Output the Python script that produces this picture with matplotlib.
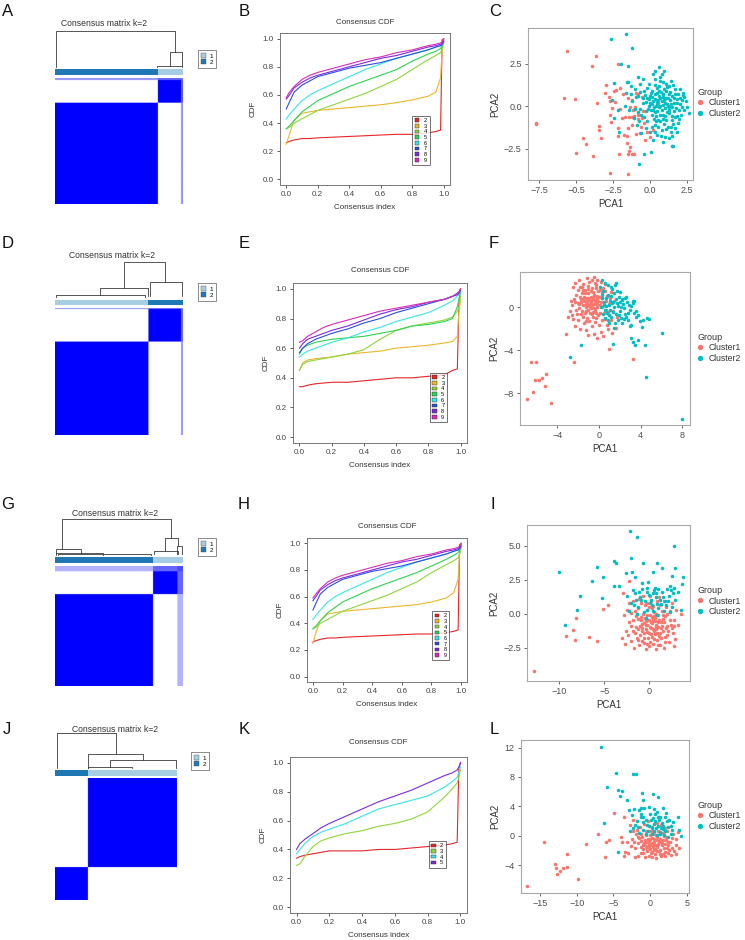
import numpy as np
import matplotlib
matplotlib.use("Agg")
import matplotlib.pyplot as plt
from matplotlib.colors import LinearSegmentedColormap
from matplotlib.patches import Patch
from matplotlib.lines import Line2D

plt.rcParams['font.family'] = ['Liberation Sans', 'DejaVu Sans']

W, H = 745, 940

# ---------------- consensus matrices (group sizes in sample order) ----------------
grp_colors = {'1': '#A6CEE3', '2': '#1F78B4'}

sizes_A = [402, 90, 8]
groups_A = ['2', '1', '1']
cons_A = [[1, 0, 0.42], [0, 1, 0.6], [0.42, 0.6, 0.55]]
dend_A = [(0.01, 0.0, 0.94, 0.42, 1.0), (0.90, 0.04, 0.99, 0.04, 0.42), (0.80, 0.0, 0.99, 0.0, 0.04)]

sizes_D = [365, 127, 8]
groups_D = ['1', '2', '2']
cons_D = [[1, 0, 0.4], [0, 1, 0.55], [0.4, 0.55, 0.5]]
dend_D = [(0.54, 0.25, 0.86, 0.44, 1.0), (0.35, 0.05, 0.73, 0.03, 0.25),
          (0.74, 0.03, 0.99, 0.03, 0.44), (0.01, 0.0, 0.70, 0.0, 0.05)]

sizes_G = [383, 95, 22]
groups_G = ['2', '1', '1']
cons_G = [[1, 0, 0.3], [0, 1, 0.6], [0.3, 0.6, 0.7]]
dend_G = [(0.055, 0.16, 0.91, 0.46, 1.0), (0.01, 0.05, 0.20, 0.05, 0.16),
          (0.86, 0.10, 0.96, 0.24, 0.46), (0.77, 0.02, 0.96, 0.02, 0.10),
          (0.95, 0.02, 0.99, 0.02, 0.24), (0.01, 0.0, 0.375, 0.0, 0.05),
          (0.02, 0.0, 0.75, 0.0, 0.02)]

sizes_J = [135, 365]
groups_J = ['2', '1']
cons_J = [[1, 0], [0, 1]]
dend_J = [(0.016, 0.0, 0.50, 0.39, 1.0), (0.27, 0.0, 0.72, 0.22, 0.39),
          (0.45, 0.02, 0.99, 0.0, 0.22), (0.27, 0.0, 0.63, 0.0, 0.03)]

# ---------------- consensus CDF curves ----------------
cdf_x = [0.0, 0.02, 0.05, 0.1, 0.15, 0.2, 0.3, 0.4, 0.5, 0.6, 0.7, 0.8, 0.9, 0.95, 0.98, 0.99, 1.0]
k_colors = {2: '#E8262A', 3: '#E9B72D', 4: '#8FD63B', 5: '#2ED452', 6: '#38E6E6',
            7: '#2A4FE0', 8: '#7A2BE0', 9: '#DA2BB8'}
k_colors_K = {2: '#E8262A', 3: '#8FD63B', 4: '#38E6E6', 5: '#7A2BE0'}

cdf_B = {
    2: [0.26, 0.27, 0.28, 0.29, 0.29, 0.295, 0.30, 0.305, 0.31, 0.315, 0.32, 0.32, 0.33, 0.34, 0.35, 0.99, 1.0],
    3: [0.25, 0.32, 0.42, 0.47, 0.48, 0.49, 0.50, 0.51, 0.52, 0.53, 0.545, 0.565, 0.59, 0.62, 0.72, 0.92, 1.0],
    4: [0.36, 0.37, 0.40, 0.43, 0.46, 0.49, 0.53, 0.57, 0.61, 0.66, 0.71, 0.78, 0.85, 0.88, 0.90, 0.93, 0.97],
    5: [0.36, 0.38, 0.42, 0.48, 0.52, 0.56, 0.61, 0.66, 0.70, 0.74, 0.78, 0.84, 0.89, 0.91, 0.93, 0.95, 0.97],
    6: [0.43, 0.46, 0.50, 0.56, 0.60, 0.63, 0.68, 0.73, 0.78, 0.82, 0.86, 0.89, 0.92, 0.94, 0.95, 0.96, 0.98],
    7: [0.50, 0.55, 0.62, 0.67, 0.70, 0.73, 0.76, 0.79, 0.81, 0.83, 0.86, 0.89, 0.92, 0.94, 0.95, 0.96, 0.98],
    8: [0.57, 0.60, 0.65, 0.69, 0.72, 0.74, 0.77, 0.80, 0.83, 0.86, 0.88, 0.91, 0.94, 0.95, 0.96, 0.97, 0.99],
    9: [0.58, 0.62, 0.66, 0.71, 0.74, 0.76, 0.79, 0.82, 0.85, 0.87, 0.90, 0.92, 0.95, 0.96, 0.97, 0.98, 1.0],
}
cdf_E = {
    2: [0.34, 0.34, 0.35, 0.36, 0.365, 0.37, 0.37, 0.38, 0.39, 0.40, 0.40, 0.41, 0.42, 0.45, 0.46, 0.92, 1.0],
    3: [0.45, 0.50, 0.52, 0.53, 0.535, 0.54, 0.56, 0.57, 0.58, 0.60, 0.61, 0.62, 0.635, 0.645, 0.68, 0.85, 0.92],
    4: [0.45, 0.49, 0.51, 0.52, 0.53, 0.54, 0.56, 0.59, 0.66, 0.72, 0.75, 0.77, 0.79, 0.81, 0.85, 0.88, 0.95],
    5: [0.56, 0.60, 0.62, 0.64, 0.65, 0.66, 0.67, 0.68, 0.70, 0.72, 0.75, 0.76, 0.78, 0.80, 0.88, 0.93, 0.98],
    6: [0.54, 0.56, 0.58, 0.60, 0.62, 0.64, 0.67, 0.71, 0.74, 0.78, 0.81, 0.84, 0.89, 0.92, 0.95, 0.96, 0.98],
    7: [0.57, 0.60, 0.63, 0.66, 0.68, 0.70, 0.73, 0.77, 0.80, 0.84, 0.87, 0.90, 0.93, 0.95, 0.96, 0.97, 0.99],
    8: [0.60, 0.63, 0.66, 0.68, 0.70, 0.72, 0.75, 0.79, 0.83, 0.86, 0.88, 0.91, 0.93, 0.95, 0.97, 0.98, 1.0],
    9: [0.64, 0.65, 0.68, 0.71, 0.74, 0.76, 0.79, 0.82, 0.85, 0.87, 0.89, 0.91, 0.93, 0.95, 0.97, 0.98, 1.0],
}
cdf_H = {
    2: [0.26, 0.27, 0.28, 0.29, 0.29, 0.295, 0.30, 0.305, 0.31, 0.315, 0.32, 0.32, 0.33, 0.34, 0.35, 0.99, 1.0],
    3: [0.25, 0.33, 0.42, 0.47, 0.48, 0.49, 0.50, 0.51, 0.52, 0.53, 0.54, 0.56, 0.59, 0.63, 0.73, 0.92, 1.0],
    4: [0.36, 0.37, 0.40, 0.43, 0.46, 0.49, 0.53, 0.57, 0.61, 0.66, 0.71, 0.78, 0.84, 0.87, 0.89, 0.92, 0.97],
    5: [0.36, 0.38, 0.42, 0.48, 0.52, 0.56, 0.61, 0.66, 0.70, 0.74, 0.78, 0.83, 0.88, 0.91, 0.93, 0.95, 0.97],
    6: [0.43, 0.46, 0.50, 0.56, 0.60, 0.63, 0.68, 0.73, 0.78, 0.82, 0.86, 0.89, 0.92, 0.94, 0.95, 0.96, 0.98],
    7: [0.50, 0.55, 0.62, 0.67, 0.70, 0.73, 0.76, 0.79, 0.81, 0.83, 0.86, 0.89, 0.92, 0.94, 0.95, 0.96, 0.98],
    8: [0.57, 0.60, 0.65, 0.69, 0.72, 0.74, 0.77, 0.80, 0.83, 0.86, 0.88, 0.91, 0.94, 0.95, 0.96, 0.97, 0.99],
    9: [0.59, 0.62, 0.66, 0.71, 0.74, 0.76, 0.79, 0.82, 0.85, 0.87, 0.90, 0.92, 0.95, 0.96, 0.97, 0.98, 1.0],
}
cdf_K = {
    2: [0.34, 0.35, 0.36, 0.37, 0.38, 0.39, 0.39, 0.39, 0.40, 0.40, 0.41, 0.42, 0.43, 0.44, 0.45, 0.96, 1.0],
    3: [0.29, 0.30, 0.35, 0.42, 0.46, 0.48, 0.51, 0.53, 0.56, 0.58, 0.61, 0.66, 0.76, 0.82, 0.86, 0.90, 0.95],
    4: [0.37, 0.40, 0.44, 0.49, 0.52, 0.54, 0.58, 0.63, 0.68, 0.71, 0.74, 0.77, 0.83, 0.87, 0.90, 0.93, 0.97],
    5: [0.40, 0.44, 0.47, 0.51, 0.55, 0.58, 0.63, 0.68, 0.73, 0.77, 0.81, 0.86, 0.91, 0.93, 0.95, 0.97, 1.0],
}

# ---------------- PCA scatter points (PCA1, PCA2) ----------------
pcaC_1 = [(-5.61, 3.22), (-3.64, 2.93), (-3.93, 2.34), (-2.16, 2.5), (-5.84, 0.45), (-5.05, 0.39),
          (-3.57, 0.16), (-7.68, -0.98), (-7.73, -1.05), (-4.55, -1.89), (-4.32, -2.23), (-5.02, -2.75),
          (-3.89, -2.91), (-3.48, -1.17), (-3.43, -1.41), (-3.3, -1.86), (-2.66, -0.96), (-3.0, 1.27),
          (-3.07, 0.78), (-2.8, 0.51), (-2.68, 0.33), (-2.43, 0.9), (-2.27, 0.94), (-2.57, -0.1),
          (-2.73, -0.53), (-2.16, -1.31), (-2.2, -1.76), (-2.11, -2.81), (-2.73, -3.91), (-1.48, -3.98),
          (-1.77, -1.7), (-1.59, -1.76), (-1.59, -2.19), (-1.36, -2.42), (-1.48, -2.81), (-1.25, -2.81),
          (-1.07, -2.81), (-1.43, -2.62), (-2.0, 1.04), (-1.82, 0.7), (-2.05, -0.14), (-1.7, -0.62),
          (-1.43, -0.66), (-1.25, -0.62), (-1.07, -0.59), (-1.36, -0.08), (-1.14, -0.23), (-1.02, -0.04),
          (-0.8, -0.53), (-0.57, -0.72), (-0.8, -0.78), (-0.39, -1.02), (-0.61, -1.21), (-0.23, -1.5),
          (-0.34, -1.99), (0.0, -1.8), (0.23, -1.41), (0.52, 0.2), (-0.84, 0.7), (-0.98, 0.78),
          (-0.57, 0.55), (-1.25, 0.35), (-1.48, 0.45), (-0.98, -1.66), (-0.68, -1.6), (-1.48, -1.31),
          (-1.93, -0.72), (-2.34, 0.25), (-1.2, -1.1), (-0.45, -0.3)]
pcaC_2 = [(-1.61, 4.22), (-2.66, 3.93), (-1.25, 3.44), (-1.98, 2.5), (-1.52, 2.34), (0.57, 2.3),
          (0.91, 2.05), (0.34, 2.07), (-2.43, 1.33), (-1.59, 1.43), (-2.57, 0.35), (-2.16, -0.2),
          (-2.43, -0.72), (-2.09, -1.5), (-0.73, -3.42), (-0.41, -2.83), (0.07, -2.68), (1.48, -2.34),
          (1.55, -2.34), (2.61, -0.43), (2.5, -0.04), (2.16, 0.35), (2.2, 0.64),
          (0.5, 0.1), (0.8, 0.3), (0.2, -0.2), (1.0, -0.1), (0.6, 0.6), (0.3, 0.4), (1.2, 0.5), (0.9, -0.5),
          (0.4, -0.6), (1.4, 0.1), (0.0, 0.2), (-0.2, 0.5), (0.7, -0.9), (1.1, 0.9), (0.1, 0.9), (1.6, -0.3),
          (1.8, 0.4), (1.5, -0.8), (-0.3, -0.3), (-0.5, 0.2), (0.6, 1.2), (0.9, 1.4), (0.3, 1.6), (-0.1, 1.3),
          (1.3, 1.2), (1.7, 1.0), (2.0, 0.1), (2.1, -0.5), (1.9, -1.0), (1.2, -1.2), (0.8, -1.4), (0.3, -1.1),
          (-0.2, -0.9), (-0.6, -0.5), (-0.8, 0.6), (-1.0, 1.0), (-0.7, 1.3), (-1.2, 0.3), (-1.4, -0.2),
          (-1.1, -0.7), (-0.9, -1.1), (0.0, -1.5), (0.5, -1.7), (1.0, -1.8), (1.4, -1.5), (1.7, -1.3),
          (2.2, 0.8), (2.3, -0.2), (0.4, 0.0), (0.7, 0.0), (1.0, 0.2), (0.2, 0.3), (0.5, -0.3), (0.9, 0.7),
          (1.3, -0.4), (0.1, -0.5), (-0.4, 0.9), (0.6, 0.9), (1.5, 0.6), (1.1, -0.8), (0.4, -0.9), (-0.1, 0.0),
          (0.8, -0.2), (1.2, 0.0), (0.3, 0.7), (0.0, 0.6), (1.6, 0.2), (1.9, 0.7), (1.4, 1.5), (0.2, 1.9),
          (0.7, 1.7), (-0.5, 1.6), (-1.3, 1.2), (-1.6, 0.8), (-1.5, 1.4), (-0.3, -1.3), (-0.6, -1.6),
          (0.2, -2.0), (0.9, -2.1), (1.3, -1.9), (-1.7, 0.0), (2.4, 0.3), (1.8, -0.6), (0.55, 0.35),
          (0.85, 0.05), (0.35, -0.35), (1.05, 0.45), (0.65, -0.55), (1.25, -0.25), (0.15, 0.15),
          (-0.25, 0.25), (0.75, 0.85), (1.45, -0.05), (1.65, -0.65), (0.05, -0.25), (-0.65, -0.15),
          (-0.85, -0.35), (1.95, -0.25), (2.05, 0.45), (0.45, 1.05), (1.15, 1.15), (-0.35, 0.65),
          (0.25, -0.75), (0.95, -1.05), (1.55, -1.05), (-1.05, -0.15), (1.35, 0.85),
          (0.45, 0.25), (0.95, 0.35), (0.25, -0.05), (1.15, -0.35), (0.7, 0.45), (0.15, 0.55), (1.35, 0.35),
          (1.0, -0.6), (0.55, -0.8), (1.6, 0.45), (-0.05, 0.4), (0.85, -0.75), (1.25, 0.7), (0.35, 1.25),
          (1.75, -0.1), (1.85, 0.2), (1.45, -0.6), (-0.15, -0.15), (-0.45, 0.45), (0.65, 1.45), (1.05, 1.3),
          (1.55, 1.25), (2.15, -0.05), (1.95, -0.75), (1.05, -1.35), (0.55, -1.25), (0.1, -1.2),
          (-0.4, -0.65), (-0.65, 0.85), (-0.95, 0.55), (0.75, -1.75), (1.45, -1.75), (2.3, 0.55),
          (1.7, 0.7), (0.9, 0.55), (0.5, 0.75), (1.3, -0.05), (0.05, 0.8), (-0.2, 1.05), (0.95, 1.0),
          (1.4, -1.25), (0.3, -1.5), (-0.75, -0.85), (1.8, -1.5), (2.0, 1.0), (0.8, 1.9), (-0.8, 1.7),
          (-1.3, 0.7), (1.15, 0.15), (0.6, -0.05)]

pcaF_1 = [(-6.47, -5.05), (-6.06, -5.11), (-6.15, -6.76), (-5.77, -6.76), (-5.42, -6.6), (-5.03, -6.23),
          (-5.19, -7.32), (-6.31, -7.91), (-6.86, -8.57), (-4.55, -8.88), (-2.37, -5.11), (-3.11, -2.46),
          (-2.95, -0.93), (0.99, -3.89), (3.24, -4.83),
          (-0.8, 0.5), (-1.2, 0.9), (-0.5, 1.2), (-1.5, 0.2), (-0.2, 0.3), (-1.0, -0.2), (-0.6, -0.4),
          (-1.8, 1.0), (-2.0, 0.4), (-1.3, 1.6), (-0.7, 1.8), (-0.1, 1.5), (0.3, 0.9), (0.5, 0.2),
          (0.1, -0.5), (-0.3, -1.0), (-1.1, -1.0), (-1.7, -0.6), (-2.2, -0.2), (-2.4, 0.8), (-2.0, 1.6),
          (-1.5, 2.2), (-0.9, 2.4), (-0.3, 2.1), (0.4, 1.8), (0.8, 1.1), (1.0, 0.3), (0.9, -0.4),
          (0.6, -1.1), (0.0, -1.6), (-0.7, -1.7), (-1.4, -1.5), (-2.0, -1.2), (-2.6, -0.7), (-2.7, 0.6),
          (-2.5, 1.9), (-1.9, 2.6), (-1.1, 2.7), (-0.5, 2.8), (0.2, 2.4), (1.2, 1.4), (1.5, 0.6),
          (1.4, -0.3), (1.2, -1.2), (0.9, -2.0), (0.2, -2.3), (-0.5, -2.5), (-1.2, -2.1), (-1.8, -2.0),
          (-2.3, -1.7), (-0.9, 0.1), (-1.4, 0.6), (-0.4, 0.7), (-1.0, 1.3), (-0.2, 0.0), (0.2, 0.5),
          (-1.6, 1.3), (-0.6, 0.9), (-1.2, 0.3), (-0.8, -0.1), (-0.4, -0.2), (0.0, 1.0), (-1.9, -0.1),
          (-2.2, 1.2), (-0.1, -0.7), (0.5, -0.5), (0.7, 0.6), (-1.3, -0.5), (-1.7, 0.5), (-0.3, 1.8),
          (-0.8, 1.5), (0.3, 1.3), (-1.5, -0.9), (-0.9, -1.3), (-0.5, 0.3), (-1.1, 0.6), (-0.7, 0.2),
          (-1.0, 0.9), (-0.3, 0.5), (-1.4, 1.0), (0.1, 0.2), (-0.6, -0.9), (-2.8, -0.3), (1.7, -0.9),
          (1.6, -1.9), (0.4, -2.7), (-0.2, -2.9), (-1.0, -2.6), (1.3, -2.4), (-2.5, -1.1), (-1.6, 1.9),
          (-0.2, 2.6), (0.6, 2.2), (-2.6, 0.2), (0.8, -1.6), (1.1, 0.9), (-1.25, 0.05), (-0.65, 0.65),
          (-0.95, 0.35), (-0.45, 1.05), (-1.55, 0.75), (-0.15, 0.85), (-0.85, -0.55), (-1.05, 1.75),
          (-0.9, 0.7), (-0.4, 0.4), (-1.1, 0.2), (-0.6, 1.4), (-1.3, 1.3), (-0.2, 1.1), (-1.7, 0.8),
          (-0.5, -0.1), (-1.2, -0.3), (-0.8, 1.0), (-0.1, 0.6), (-1.5, 1.6), (-1.9, 0.3), (0.1, 1.6),
          (-0.7, -0.6), (-2.3, 0.5), (-1.0, 2.0), (-0.4, 2.3), (0.6, 1.5), (0.3, 0.0), (-1.6, -0.3),
          (-2.1, -0.6), (-0.3, -0.5), (0.7, -0.2), (-1.2, -1.3), (-0.4, -1.4), (0.3, -1.2), (-1.8, 1.9),
          (-2.3, 2.3), (-0.7, 2.6)]
pcaF_2 = [(0.26, 2.52), (0.58, 2.27), (1.54, 2.12), (1.76, 1.5), (2.18, 0.72), (2.5, 0.87), (3.24, 0.4),
          (3.37, 0.56), (3.53, -0.37), (3.78, -0.69), (4.2, -1.15), (4.58, -1.0), (4.84, -1.09),
          (6.03, -2.43), (4.1, -1.84), (2.98, -1.78), (3.04, -2.87), (3.24, -3.27), (3.46, -3.49),
          (3.72, -3.02), (4.42, -3.49), (4.55, -6.45), (8.01, -10.4), (-1.67, -3.55), (-2.79, -4.67),
          (1.38, -3.4), (1.54, -1.46),
          (0.5, 0.5), (1.0, 0.2), (1.5, 0.0), (2.0, -0.3), (0.8, -0.5), (1.2, -0.9), (1.8, -1.2),
          (2.5, -0.6), (3.0, -0.2), (2.3, 0.3), (1.6, 0.8), (0.9, 1.2), (0.4, 1.5), (1.3, 1.7), (2.0, 1.4),
          (2.6, 1.0), (3.3, 0.6), (0.2, 0.0), (0.6, -1.0), (1.0, -1.5), (1.5, -1.9), (2.2, -1.5),
          (2.8, -1.2), (3.1, -1.6), (1.7, 0.4), (1.1, 0.6), (0.7, 0.1), (2.4, -0.1), (1.9, -0.7),
          (1.4, -0.4), (0.3, 0.9), (2.7, 0.5), (3.6, -0.9), (3.9, -1.3), (0.1, 1.9), (0.9, 2.1),
          (1.6, 2.3), (2.2, 0.8), (1.2, 1.1), (0.6, -0.2), (1.8, 0.1), (2.9, 0.2), (3.4, -0.5),
          (2.6, -0.9), (1.1, -0.2), (0.4, -0.6), (2.1, -1.0), (1.3, 0.4),
          (0.7, 0.9), (1.4, 0.5), (2.1, 0.0), (1.0, -0.7), (1.6, -0.6), (2.4, -1.1), (0.5, 0.2),
          (1.9, 1.0), (0.3, 1.2), (1.2, 1.9), (2.8, -0.5), (0.9, -1.2), (2.0, 0.5), (1.5, 1.3), (3.1, 0.1)]

pcaI_1 = [(-12.78, -4.18), (-9.26, -1.61), (-8.26, -1.93), (-8.44, -1.19), (-8.15, -0.3), (-6.7, -1.73),
          (-5.85, -2.03), (-5.11, 0.37), (-4.56, 0.62), (-2.22, 2.43), (-2.89, 1.49),
          (0.3, -0.7), (-0.5, -0.3), (1.0, -1.0), (0.0, -1.4), (-1.0, -0.9), (1.5, -0.4), (0.8, 0.0),
          (-0.3, 0.3), (-1.5, -0.2), (2.0, -0.9), (1.8, -1.7), (0.5, -1.9), (-0.6, -1.8), (-1.6, -1.4),
          (-2.2, -0.6), (-2.5, 0.3), (-1.8, 0.9), (-0.9, 0.8), (0.2, 0.9), (1.2, 0.6), (2.3, 0.2),
          (2.8, -0.5), (2.6, -1.4), (2.2, -2.1), (1.2, -2.3), (0.0, -2.4), (-1.1, -2.3), (-2.0, -2.0),
          (-2.6, -1.3), (-2.8, -0.1), (0.6, -0.3), (-0.2, -0.8), (0.9, -1.4), (-0.8, -1.3), (1.4, -0.9),
          (0.1, -0.1), (-0.4, -1.1), (1.1, -0.5), (-1.2, -0.4), (0.4, -1.1), (1.7, -0.2), (-0.7, 0.0),
          (0.7, -0.8), (-0.1, -1.8), (-1.3, 0.4), (2.4, -0.8), (1.9, 0.5), (-2.0, -0.9), (0.3, 0.4),
          (-0.5, 0.6), (1.3, -1.8), (-1.4, -1.8), (0.8, -2.6), (-0.4, -2.6), (1.6, -2.5), (-1.7, -2.5),
          (3.2, -0.8), (3.0, 0.3), (-2.7, -2.2), (2.9, -1.9), (0.0, -0.5), (0.5, 0.1), (1.0, -0.1),
          (-0.9, -0.5), (0.2, -1.5), (-0.3, -0.1), (1.5, -1.3), (0.6, -1.5), (-1.0, -1.6), (2.1, -1.3),
          (-1.8, -0.5), (-0.6, -0.7), (0.9, 0.9), (-0.2, 0.8), (1.6, 0.9), (-1.1, 1.1), (2.5, 0.8),
          (-2.3, 0.8), (0.4, -2.2), (-0.8, -2.0), (1.1, 1.2), (0.1, 1.3), (-0.7, 1.3), (3.5, 0.0),
          (-3.0, -1.8), (2.7, -2.4), (0.45, -0.45), (-0.15, -0.45), (0.75, -1.15), (1.25, -0.65),
          (-0.55, -1.45), (0.15, -1.05), (1.85, -1.05), (-1.25, -1.15),
          (0.35, -0.25), (0.95, -0.65), (-0.35, -0.55), (0.55, -1.25), (-0.75, -1.05), (1.35, -1.05),
          (0.05, -0.95), (0.65, -0.55), (-0.25, -1.35), (1.05, -1.65), (-0.95, -0.25), (0.25, -1.75),
          (1.65, -0.65), (-1.45, -0.95), (0.85, -1.95), (-0.55, -2.15), (1.95, -1.55), (2.25, -0.45),
          (-1.75, -1.25), (0.45, 0.55), (-0.05, 0.45), (1.45, 0.2), (-2.35, -1.55), (2.55, -1.05),
          (0.7, -0.95), (-0.4, -0.8), (1.2, -1.4), (0.1, -2.05), (-1.2, -1.95), (1.75, -2.05),
          (2.75, -0.9), (-2.05, 0.05), (0.15, -0.65), (0.5, -0.15), (-0.85, -0.75), (1.55, -0.1),
          (0.95, -2.3), (-0.2, -2.2), (2.0, 0.0), (-1.6, 0.2)]
pcaI_2 = [(-10.04, 3.04), (-9.37, -0.82), (-7.7, 1.31), (-8.0, 0.25), (-6.4, 2.4), (-5.78, 3.39),
          (-5.11, 2.72), (-5.19, 1.14), (-3.93, 3.89), (-3.7, 3.71), (-3.93, 2.03), (-3.33, 2.03),
          (-2.15, 6.04), (-1.41, 5.64), (-2.07, 4.08), (2.78, 5.0), (-0.67, 3.71), (-2.63, 2.97),
          (-1.93, 3.09), (-1.59, 2.72), (0.37, 3.09), (0.81, 3.71), (1.37, 3.34), (2.85, 3.34),
          (3.7, 2.72), (3.67, 2.18), (2.48, 2.77), (2.3, 2.03), (-0.85, 2.23), (-0.11, 2.35), (0.44, 1.49),
          (-2.5, 1.3), (-2.0, 0.8), (-1.6, 1.5), (-1.2, 0.5), (-0.8, 1.8), (-0.5, 0.9), (0.0, 1.4),
          (0.3, 0.6), (0.7, 1.2), (1.0, 0.4), (1.4, 1.6), (1.8, 0.9), (2.2, 1.3), (2.5, 0.5), (2.9, 1.0),
          (3.2, 1.6), (-1.8, 1.7), (-1.0, 1.2), (-0.3, 0.3), (0.5, 1.7), (1.2, 1.0), (1.6, 0.2),
          (2.0, 1.8), (2.7, 1.9), (-1.4, 0.0), (-0.6, 0.1), (0.9, -0.1), (2.3, 0.1), (3.5, 0.3),
          (-2.2, 0.2), (-0.2, 1.9), (0.2, 1.0), (1.9, 0.6), (0.4, 0.2), (-1.1, 1.6), (2.6, 1.5),
          (-0.4, -0.3), (1.3, 0.7), (-1.7, 0.6), (0.8, 1.5),
          (-0.9, 1.0), (0.1, 0.8), (0.6, 1.9), (1.5, 1.2), (2.1, 0.9), (-0.3, 1.6), (1.0, 1.8),
          (2.4, 1.7), (-1.5, 1.0), (0.9, 0.7)]

pcaL_1 = [(-16.77, -6.88), (-14.5, -0.86), (-11.32, -2.44), (-13.0, -3.8), (-12.86, -4.39),
          (-12.77, -5.2), (-12.32, -4.84), (-11.86, -4.39), (-11.32, -4.25), (-9.82, -5.84),
          (-8.82, -1.09), (-7.09, 0.27), (-6.05, -0.9), (-5.64, -0.63), (-6.18, -2.9), (-4.95, 3.08),
          (-4.0, -0.18), (-3.77, -0.9), (-3.45, -2.26),
          (0.5, -0.8), (1.0, -1.5), (-0.3, -0.4), (1.8, -0.6), (0.0, -1.8), (-1.0, -1.2), (2.5, -1.3),
          (1.3, 0.3), (-0.5, 0.6), (-1.5, -0.3), (0.7, -2.5), (2.0, -2.2), (-1.2, -2.3), (3.0, -0.3),
          (2.8, -2.6), (-2.0, -1.6), (-2.5, -0.5), (-1.8, 0.8), (-0.8, 1.6), (0.3, 1.2), (1.5, 1.5),
          (2.3, 0.7), (3.5, -1.2), (3.8, 0.5), (-3.0, -2.3), (-2.8, 1.5), (-3.5, 2.6), (-2.3, 2.2),
          (0.9, -0.2), (-0.1, -1.1), (1.6, -1.0), (0.2, -0.3), (-0.7, -0.6), (1.2, -2.0), (-0.4, -2.0),
          (2.2, -0.1), (0.6, 0.5), (-1.3, 0.2), (1.9, -1.7), (-0.9, -1.8), (0.4, -1.5), (1.1, -1.1),
          (0.0, 0.1), (-0.2, -2.7), (1.5, -2.8), (2.6, -1.9), (-1.6, -2.7), (-3.2, -0.8), (3.3, -2.0),
          (4.0, -1.7), (2.9, 1.3), (-2.1, -2.9), (0.8, -3.0), (-1.1, -0.2), (1.7, 0.4), (0.3, -2.2),
          (2.4, -0.9), (-0.6, -1.4), (1.4, -0.5), (-1.9, 0.3), (0.1, 0.7), (-2.6, -1.4), (2.1, 1.1),
          (-1.4, 1.2), (1.0, 1.7), (-0.3, 2.0), (3.2, 0.3), (-3.6, -2.8), (-1.7, -1.0), (0.9, -2.0),
          (0.6, -1.2), (-0.5, -0.9), (1.3, -0.9), (0.2, -1.3), (-1.2, -0.7), (2.0, -1.1), (0.75, 0.05),
          (0.6, -0.4), (1.2, -0.7), (-0.1, -0.7), (0.3, -1.0), (1.6, -1.3), (-0.8, -1.0), (2.2, -0.6),
          (0.9, -1.3), (-0.4, -1.6), (1.4, -1.9), (0.1, -2.4), (2.3, -1.6), (-1.3, -1.5), (0.7, -1.8),
          (1.8, -2.5), (-0.9, -2.4), (2.7, -0.8), (3.0, -1.6), (-2.2, -0.9), (0.4, 0.2), (1.1, 0.6),
          (-0.6, 0.1), (1.9, 0.0), (-1.6, -0.1), (0.0, -0.5), (1.0, -0.6), (0.5, -1.9), (-0.2, -1.4),
          (2.5, -2.3), (1.3, -2.5), (-0.7, -2.9), (3.5, -0.4), (-2.4, 0.6), (0.2, -2.9), (2.0, -2.8),
          (3.6, -2.5)]
pcaL_2 = [(-6.77, 12.04), (-4.68, 8.6), (-2.32, 8.37), (-1.95, 8.37), (-5.82, 6.7), (-4.36, 6.24),
          (-3.82, 6.11), (-4.14, 5.43), (-6.32, 1.72), (-4.36, -2.17), (-3.14, 4.89), (-1.09, 5.79),
          (0.41, 5.7), (1.05, 5.34), (-0.95, 4.89), (-1.18, 3.76), (-2.86, 3.53), (3.82, 2.49),
          (4.27, 0.0), (3.95, 0.81),
          (-2.5, 2.8), (-2.0, 1.5), (-1.5, 3.5), (-1.0, 0.8), (-0.5, 2.2), (0.0, 3.0), (0.3, 1.0),
          (0.7, 2.0), (1.0, 3.3), (1.3, 0.5), (1.6, 1.7), (2.0, 2.6), (2.4, 1.2), (2.8, 0.3), (3.2, 1.9),
          (-1.8, 2.0), (-1.2, 3.0), (-0.2, 1.3), (0.5, 3.6), (1.1, 1.3), (1.8, 0.9), (2.2, 3.1),
          (-0.8, 3.8), (0.2, 0.3), (1.4, 2.6), (-2.8, 0.7), (-0.6, 0.3), (0.9, 0.1), (2.6, 2.2),
          (-1.5, 0.4), (3.0, 0.8), (1.9, 0.1), (0.4, 2.4), (-0.1, 3.9), (1.7, 3.8), (-2.2, 3.6),
          (2.5, -0.2), (0.8, 1.0), (-1.0, 1.9), (1.2, 2.1), (-0.4, 1.5), (0.6, 0.6), (1.5, 1.1),
          (2.1, 0.6), (-1.3, 2.6),
          (-0.3, 0.7), (0.5, 1.6), (1.1, 2.6), (-0.9, 2.5), (1.7, 1.4), (2.3, 2.0), (-1.6, 1.2),
          (0.1, 2.2), (2.9, 1.4), (1.4, 0.2), (-2.3, 1.1), (0.7, 3.0)]

cl_colors = ['#F8766D', '#00BFC4']

fig = plt.figure(figsize=(W / 100, H / 100), dpi=100)


def box(x0, y0, x1, y1):
    return [x0 / W, 1 - y1 / H, (x1 - x0) / W, (y1 - y0) / H]


cmap_wb = LinearSegmentedColormap.from_list('wb', ['white', '#0000FF'])


def consensus_panel(r_mat, r_bar, r_den, sizes, groups, cons, links, title_xy, leg_xy):
    idx = np.repeat(np.arange(len(sizes)), sizes)
    M = np.asarray(cons, dtype=float)[np.ix_(idx, idx)]
    ax = fig.add_axes(box(*r_mat))
    ax.imshow(M, cmap=cmap_wb, vmin=0, vmax=1, origin='lower', aspect='auto')
    ax.axis('off')

    axb = fig.add_axes(box(*r_bar))
    edges = np.concatenate([[0], np.cumsum(sizes)])
    axb.bar(edges[:-1], 1, width=sizes, align='edge',
            color=[grp_colors[g] for g in groups], linewidth=0)
    axb.set_xlim(0, edges[-1])
    axb.set_ylim(0, 1)
    axb.axis('off')

    axd = fig.add_axes(box(*r_den))
    for xl, yl, xr, yr, h in links:
        axd.plot([xl, xl, xr, xr], [yl, h, h, yr], color='#3a3a3a', lw=0.6, clip_on=False)
    axd.set_xlim(0, 1)
    axd.set_ylim(0, 1)
    axd.axis('off')

    fig.text(title_xy[0] / W, 1 - title_xy[1] / H, 'Consensus matrix k=2',
             ha='center', va='center', fontsize=6.2, color='#333333')
    handles = [Patch(facecolor=grp_colors['1'], edgecolor='#555555', lw=0.3),
               Patch(facecolor=grp_colors['2'], edgecolor='#555555', lw=0.3)]
    leg = fig.legend(handles, ['1', '2'], loc='upper left',
                     bbox_to_anchor=(leg_xy[0] / W, 1 - leg_xy[1] / H),
                     fontsize=4.6, frameon=True, fancybox=False, handlelength=0.8,
                     handleheight=0.8, borderpad=0.45, labelspacing=0.1,
                     handletextpad=0.6, borderaxespad=0)
    leg.get_frame().set_edgecolor('#555555')
    leg.get_frame().set_linewidth(0.6)


def cdf_panel(rect, curves, colors, title_y, leg_anchor):
    ax = fig.add_axes(box(*rect))
    for k, ys in curves.items():
        ax.plot(cdf_x, ys, color=colors[k], lw=0.8)
    ax.set_xlim(-0.04, 1.04)
    ax.set_ylim(-0.04, 1.04)
    ticks = [0.0, 0.2, 0.4, 0.6, 0.8, 1.0]
    ax.set_xticks(ticks)
    ax.set_yticks(ticks)
    ax.set_xticklabels(['%.1f' % t for t in ticks])
    ax.set_yticklabels(['%.1f' % t for t in ticks])
    ax.tick_params(labelsize=5.8, colors='#444444', length=2.5, width=0.6, pad=2)
    for s in ax.spines.values():
        s.set_color('#777777')
        s.set_linewidth(0.7)
    ax.set_xlabel('Consensus index', fontsize=5.8, color='#333333', labelpad=4)
    ax.set_ylabel('CDF', fontsize=5.8, color='#333333', labelpad=4)
    cx = (rect[0] + rect[2]) / 2
    fig.text(cx / W, 1 - title_y / H, 'Consensus CDF', ha='center', va='center',
             fontsize=5.8, color='#333333')
    handles = [Patch(facecolor=colors[k], edgecolor='#222222', lw=0.3) for k in curves]
    leg = ax.legend(handles, [str(k) for k in curves], loc='lower right',
                    bbox_to_anchor=leg_anchor, fontsize=4.0, frameon=True, fancybox=False,
                    handlelength=0.8, handleheight=0.6, labelspacing=0.12, borderpad=0.45,
                    handletextpad=0.8, borderaxespad=0)
    leg.get_frame().set_edgecolor('#333333')
    leg.get_frame().set_linewidth(0.6)


def pca_panel(rect, c1, c2, xlim, ylim, xticks, xlabels, yticks, ylabels, leg_y):
    ax = fig.add_axes(box(*rect))
    for pts, col in zip([c1, c2], cl_colors):
        xs, ys = zip(*pts)
        ax.scatter(xs, ys, s=6.5, color=col, linewidths=0)
    ax.set_xlim(*xlim)
    ax.set_ylim(*ylim)
    ax.set_xticks(xticks)
    ax.set_xticklabels(xlabels)
    ax.set_yticks(yticks)
    ax.set_yticklabels(ylabels)
    ax.tick_params(labelsize=6.5, colors='#4d4d4d', length=2.5, width=0.6, pad=2)
    for s in ax.spines.values():
        s.set_color('#a8a8a8')
        s.set_linewidth(0.8)
    ax.set_xlabel('PCA1', fontsize=7, color='#333333', labelpad=3)
    ax.set_ylabel('PCA2', fontsize=7, color='#333333', labelpad=3)
    handles = [Line2D([], [], ls='', marker='o', ms=2.8, color=c) for c in cl_colors]
    leg = fig.legend(handles, ['Cluster1', 'Cluster2'], title='Group', loc='center left',
                     bbox_to_anchor=(697 / W, 1 - leg_y / H), frameon=False, fontsize=6.2,
                     title_fontsize=6.5, handlelength=0.8, handletextpad=0.5,
                     labelspacing=0.15, borderpad=0, borderaxespad=0)
    leg._legend_box.align = 'left'
    leg.get_title().set_color('#333333')
    for t in leg.get_texts():
        t.set_color('#333333')


# heatmaps
consensus_panel((55, 78, 183, 204), (55, 69, 183, 75), (55, 31, 183, 67),
                sizes_A, groups_A, cons_A, dend_A, (104, 23), (198, 50))
consensus_panel((55, 308, 183, 435), (55, 300, 183, 305), (55, 262, 183, 297),
                sizes_D, groups_D, cons_D, dend_D, (112, 256), (198, 283))
consensus_panel((55, 566, 183, 686), (55, 557, 183, 563), (55, 519, 183, 555),
                sizes_G, groups_G, cons_G, dend_G, (115, 513), (198, 538))
consensus_panel((55, 778, 177, 900), (55, 770, 177, 776), (55, 733, 177, 768),
                sizes_J, groups_J, cons_J, dend_J, (115, 729), (191, 752))

# consensus CDF
cdf_panel((280, 33, 450, 185), cdf_B, k_colors, 23, (0.88, 0.13))
cdf_panel((293, 283, 467, 443), cdf_E, k_colors, 270, (0.885, 0.13))
cdf_panel((307, 538, 467, 682), cdf_H, k_colors, 527, (0.89, 0.15))
cdf_panel((290, 757, 467, 913), cdf_K, k_colors_K, 742, (0.88, 0.29))

# PCA
m = '\u2212'
pca_panel((528, 28, 693, 180), pcaC_1, pcaC_2, (-8.25, 2.9), (-4.34, 4.59),
          [-7.5, -5.0, -2.5, 0.0, 2.5], [m + '7.5', m + '0.5', m + '2.5', '0.0', '2.5'],
          [-2.5, 0.0, 2.5], [m + '2.5', '0.0', '2.5'], 103)
pca_panel((520, 272, 690, 425), pcaF_1, pcaF_2, (-7.56, 8.74), (-10.97, 3.3),
          [-4, 0, 4, 8], [m + '4', '0', '4', '8'],
          [-8, -4, 0], [m + '8', m + '4', '0'], 348)
pca_panel((527, 525, 690, 681), pcaI_1, pcaI_2, (-13.56, 4.52), (-4.95, 6.51),
          [-10, -5, 0], [m + '10', m + '5', '0'],
          [-2.5, 0.0, 2.5, 5.0], [m + '2.5', '0.0', '2.5', '5.0'], 601)
pca_panel((521, 740, 689, 893), pcaL_1, pcaL_2, (-17.64, 5.32), (-7.78, 13.03),
          [-15, -10, -5, 0, 5], [m + '15', m + '10', m + '5', '0', '5'],
          [-4, 0, 4, 8, 12], [m + '4', '0', '4', '8', '12'], 816)

# panel letters
letters = ['A', 'B', 'C', 'D', 'E', 'F', 'G', 'H', 'I', 'J', 'K', 'L']
letter_xy = [(2, 4), (239, 4), (489, 4), (2, 236), (239, 236), (489, 236),
             (1, 497), (238, 497), (491, 497), (3, 722), (239, 722), (490, 722)]
for lab, (x, y) in zip(letters, letter_xy):
    fig.text(x / W, 1 - y / H, lab, ha='left', va='top', fontsize=12, color='#111111')

fig.savefig('out.png', dpi=100)
